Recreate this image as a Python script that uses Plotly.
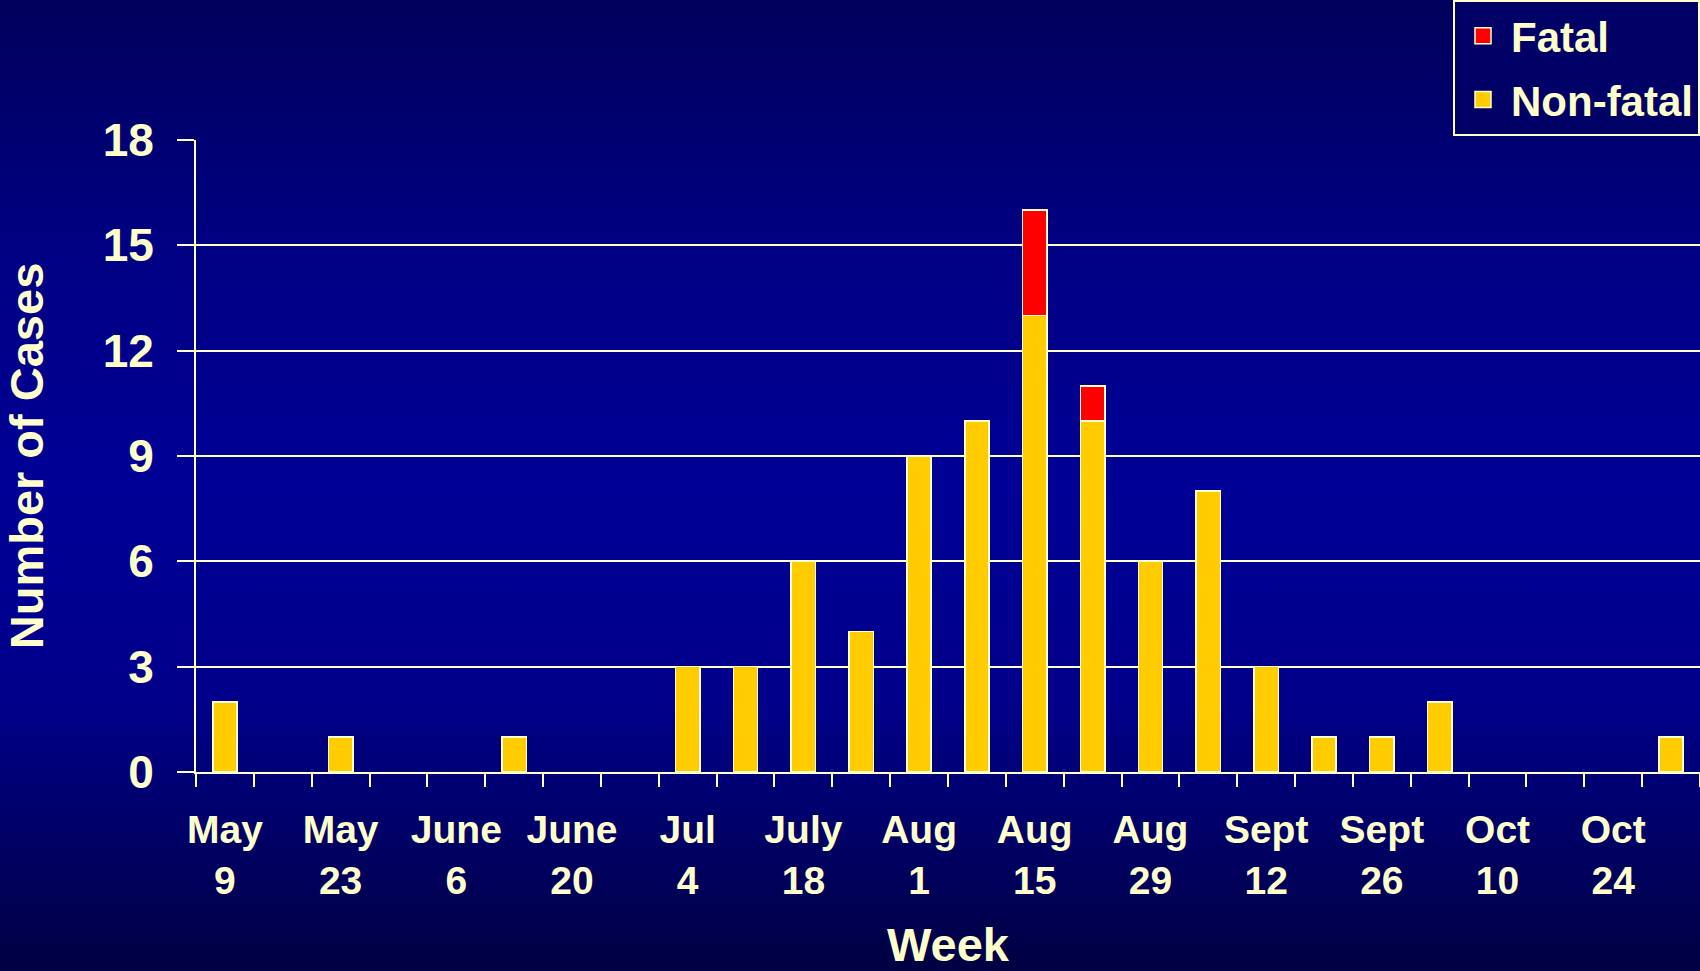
import base64
import plotly.graph_objects as go

# ---- data ----
weeks = ["May 9", "May 16", "May 23", "May 30", "June 6", "June 13", "June 20", "June 27",
         "Jul 4", "Jul 11", "July 18", "Jul 25", "Aug 1", "Aug 8", "Aug 15", "Aug 22",
         "Aug 29", "Sept 5", "Sept 12", "Sept 19", "Sept 26", "Oct 3", "Oct 10", "Oct 17",
         "Oct 24", "Oct 31"]
non_fatal = [2, 0, 1, 0, 0, 1, 0, 0, 3, 3, 6, 4, 9, 10, 13, 10, 6, 8, 3, 1, 1, 2, 0, 0, 0, 1]
fatal = [0, 0, 0, 0, 0, 0, 0, 0, 0, 0, 0, 0, 0, 0, 3, 1, 0, 0, 0, 0, 0, 0, 0, 0, 0, 0]
tick_labels = ["May<br>9", "May<br>23", "June<br>6", "June<br>20", "Jul<br>4", "July<br>18",
               "Aug<br>1", "Aug<br>15", "Aug<br>29", "Sept<br>12", "Sept<br>26", "Oct<br>10",
               "Oct<br>24"]
y_ticks = [0, 3, 6, 9, 12, 15, 18]

# ---- style ----
W, H = 1700, 971
ML, MR, MT, MB = 196, 0, 140, 199
CREAM = "#FFFFCC"
YELLOW = "#FFCC00"
RED = "#FF0000"
FONT = "Arial, Liberation Sans, sans-serif"

x = list(range(len(weeks)))
label_pos = x[::2]
boundaries = [i - 0.5 for i in range(len(weeks) + 1)]


def blank_zero(vals):
    return [v if v else None for v in vals]


fig = go.Figure()
fig.add_trace(go.Bar(x=x, y=blank_zero(non_fatal), name="Non-fatal", width=0.42,
                     marker=dict(color=YELLOW, line=dict(color=CREAM, width=1.5)),
                     hovertext=weeks, legendgroup="nf", showlegend=False))
fig.add_trace(go.Bar(x=x, y=blank_zero(fatal), name="Fatal", width=0.42,
                     marker=dict(color=RED, line=dict(color=CREAM, width=1.5)),
                     hovertext=weeks, legendgroup="f", showlegend=False))
# legend entries (larger square swatches)
for nm, col, grp in [("Fatal", RED, "f"), ("Non-fatal", YELLOW, "nf")]:
    fig.add_trace(go.Scatter(x=[None], y=[None], mode="markers", name=nm, legendgroup=grp,
                             marker=dict(symbol="square", size=16, color=col,
                                         line=dict(color=CREAM, width=1.5)),
                             showlegend=True, hoverinfo="skip"))

# gradient background as an svg image
svg = f'''<svg xmlns="http://www.w3.org/2000/svg" width="{W}" height="{H}" preserveAspectRatio="none" viewBox="0 0 {W} {H}">
<defs><linearGradient id="g" x1="0" y1="0" x2="0" y2="1">
<stop offset="0" stop-color="#00005C"/>
<stop offset="0.25" stop-color="#000082"/>
<stop offset="0.5" stop-color="#000096"/>
<stop offset="0.72" stop-color="#00008A"/>
<stop offset="0.86" stop-color="#000066"/>
<stop offset="1" stop-color="#000042"/>
</linearGradient></defs>
<rect x="0" y="0" width="{W}" height="{H}" fill="url(#g)"/></svg>'''
src = "data:image/svg+xml;base64," + base64.b64encode(svg.encode()).decode()
pw = W - ML - MR
ph = H - MT - MB
fig.add_layout_image(dict(source=src, xref="paper", yref="paper",
                          x=-ML / pw, y=1 + MT / ph, sizex=W / pw, sizey=H / ph,
                          xanchor="left", yanchor="top", sizing="stretch", layer="below"))

fig.update_layout(
    width=W, height=H,
    margin=dict(l=ML, r=MR, t=MT, b=MB, autoexpand=False),
    barmode="stack",
    paper_bgcolor="#000080",
    plot_bgcolor="rgba(0,0,0,0)",
    font=dict(family=FONT, color=CREAM, size=38, weight="bold"),
    showlegend=True,
    legend=dict(xref="container", yref="container", x=1, y=1, xanchor="right", yanchor="top",
                bgcolor="#000066", bordercolor=CREAM, borderwidth=2,
                font=dict(size=42, color=CREAM, family=FONT, weight="bold"),
                traceorder="grouped", tracegroupgap=6, itemwidth=46, itemsizing="trace"),
)

fig.update_xaxes(
    range=[-0.5, len(weeks) - 0.5],
    tickmode="array", tickvals=label_pos, ticktext=tick_labels,
    ticks="", showgrid=False, zeroline=False,
    showline=True, linecolor=CREAM, linewidth=2,
    tickfont=dict(size=39, color=CREAM, family=FONT, weight="bold"),
    ticklabelstandoff=22,
    minor=dict(tickmode="array", tickvals=boundaries, ticks="outside", ticklen=13,
               tickwidth=2, tickcolor=CREAM, showgrid=False),
    title=dict(text="Week", font=dict(size=47, color=CREAM, family=FONT, weight="bold"),
               standoff=33),
)
fig.update_yaxes(
    range=[0, 18], tickmode="array", tickvals=y_ticks,
    showgrid=True, gridcolor=CREAM, gridwidth=2, zeroline=False,
    showline=True, linecolor=CREAM, linewidth=2,
    ticks="outside", ticklen=17, tickwidth=2, tickcolor=CREAM,
    tickfont=dict(size=46, color=CREAM, family=FONT, weight="bold"),
    ticklabelstandoff=14,
    title=dict(text="Number of Cases", font=dict(size=47, color=CREAM, family=FONT, weight="bold"),
               standoff=45),
)

fig.write_html("out.html",
               config={"displayModeBar": False},
               post_script="document.body.style.margin='0';document.body.style.padding='0';"
                           "document.body.style.overflow='hidden';")
